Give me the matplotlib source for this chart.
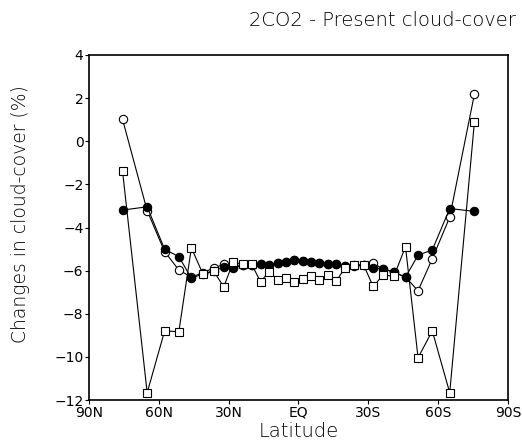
import matplotlib
matplotlib.use("Agg")
import matplotlib.pyplot as plt

# latitude of each model band (N positive, S negative)
lat = [75.6, 65.0, 57.5, 51.4, 46.0, 41.0, 36.4, 32.1, 28.0, 24.0, 20.1, 16.3, 12.6, 9.0, 5.4, 1.8,
       -1.8, -5.4, -9.0, -12.6, -16.3, -20.1, -24.0, -28.0, -32.1, -36.4, -41.0, -46.0, -51.4, -57.5, -65.0, -75.6]

open_circ = [1.02, -3.22, -5.12, -5.97, -6.30, -6.10, -5.87, -5.71, -5.82, -5.75, -5.72, -5.70, -5.72, -5.65, -5.62, -5.50,
             -5.56, -5.62, -5.66, -5.68, -5.68, -5.78, -5.76, -5.72, -5.66, -5.92, -6.07, -6.30, -6.93, -5.45, -3.52, 2.18]

filled_circ = [-3.19, -3.04, -5.01, -5.35, -6.35, -6.15, -6.00, -5.85, -5.88, -5.75, -5.72, -5.68, -5.73, -5.65, -5.62, -5.52,
               -5.56, -5.62, -5.66, -5.69, -5.67, -5.78, -5.78, -5.74, -5.86, -5.92, -6.07, -6.30, -5.28, -5.04, -3.12, -3.25]

squares = [-1.38, -11.66, -8.79, -8.83, -4.94, -6.17, -6.03, -6.75, -5.59, -5.71, -5.71, -6.51, -6.05, -6.41, -6.36, -6.51,
           -6.38, -6.25, -6.41, -6.20, -6.47, -5.86, -5.76, -5.74, -6.73, -6.20, -6.26, -4.89, -10.04, -8.79, -11.66, 0.88]

xticks = [90, 60, 30, 0, -30, -60, -90]
xticklabels = ["90N", "60N", "30N", "EQ", "30S", "60S", "90S"]
yticks = [-12, -10, -8, -6, -4, -2, 0, 2, 4]

plt.rcParams['font.family'] = ['DejaVu Sans']

fig = plt.figure(figsize=(5.22, 4.47), dpi=100)
ax = fig.add_axes([0.1705, 0.105, 0.8025, 0.772])

ax.plot(lat, open_circ, color='black', lw=0.8, marker='o', ms=6,
        mfc='white', mec='black', mew=0.8, zorder=2)
ax.plot(lat, filled_circ, color='black', lw=0.8, marker='o', ms=6,
        mfc='black', mec='black', mew=0.8, zorder=3)
ax.plot(lat, squares, color='black', lw=0.8, marker='s', ms=6,
        mfc='white', mec='black', mew=0.8, zorder=4)

ax.set_xlim(90, -90)
ax.set_ylim(-12, 4)
ax.set_xticks(xticks)
ax.set_xticklabels(xticklabels)
ax.set_yticks(yticks)
ax.tick_params(direction='out', length=3, width=0.8, labelsize=10, pad=1)
for s in ax.spines.values():
    s.set_linewidth(1.2)

ax.set_xlabel("Latitude", fontsize=14, fontweight='light', labelpad=2)
ax.set_ylabel("Changes in cloud-cover (%)", fontsize=13.5, fontweight='light')
ax.yaxis.set_label_coords(-0.14, 0.54)
fig.text(0.733, 0.955, "2CO2 - Present cloud-cover", fontsize=14,
         fontweight='light', ha='center', va='center')

fig.savefig("out.png", dpi=100)
